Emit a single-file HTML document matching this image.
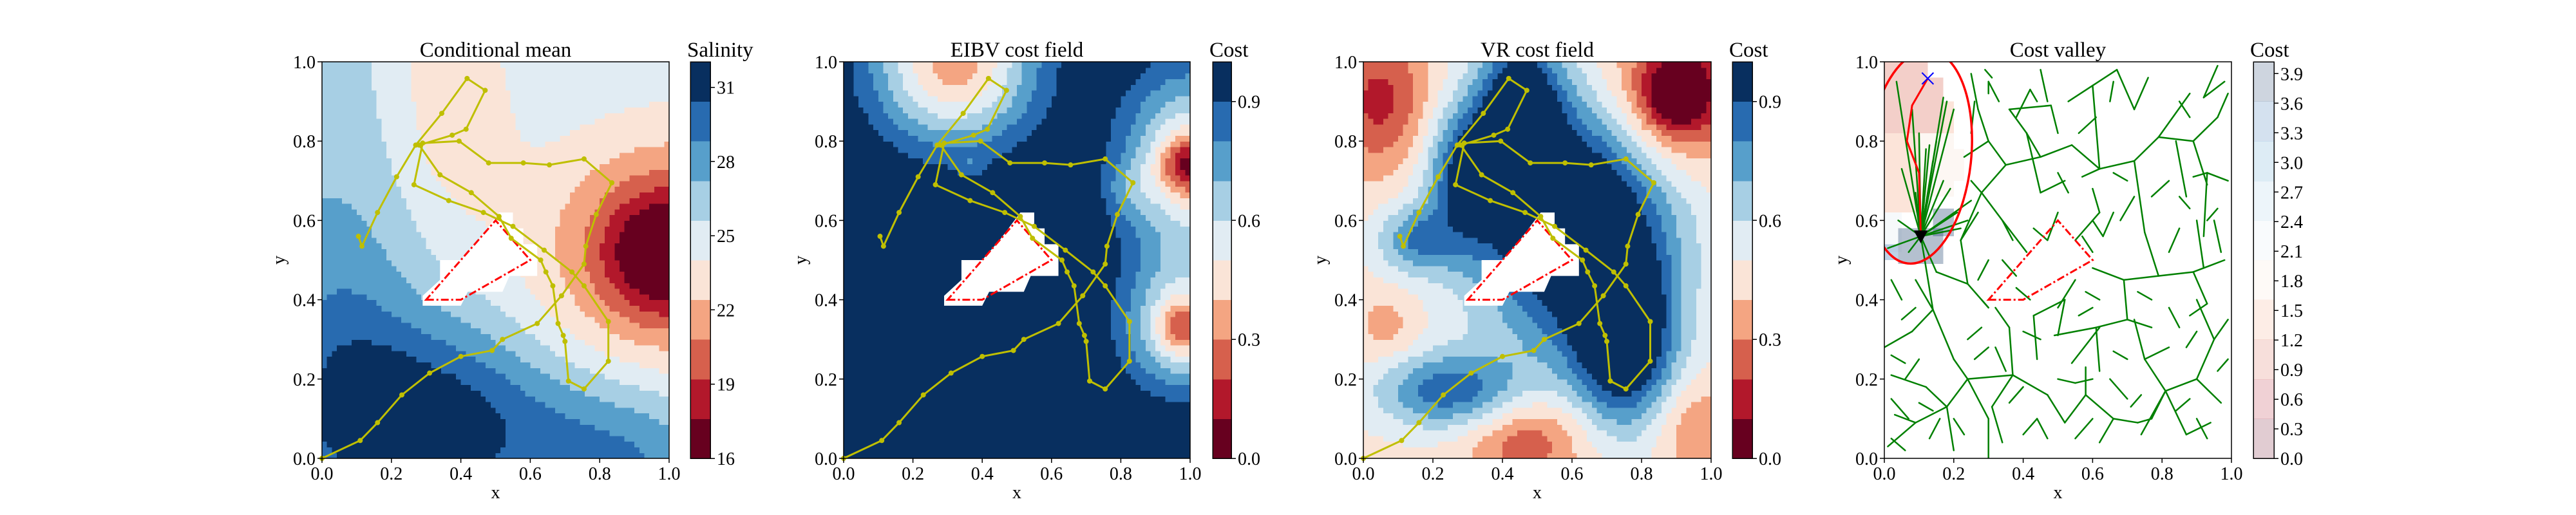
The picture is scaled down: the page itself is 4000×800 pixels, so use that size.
<!DOCTYPE html>
<html><head><meta charset="utf-8">
<style>
html,body{margin:0;padding:0;background:#fff;}
body, svg, svg text{font-family:"Liberation Serif","Times New Roman",Times,"DejaVu Serif",serif;}
svg{display:block;}
</style></head>
<body>
<svg id="fig" width="4000" height="800" viewBox="0 0 4000 800" xmlns="http://www.w3.org/2000/svg"></svg>
<script>
// ---- data ----
const xTicks = [0, 0.2, 0.4, 0.6, 0.8, 1.0];
const yTicks = [0, 0.2, 0.4, 0.6, 0.8, 1.0];
const salTicks = [16, 19, 22, 25, 28, 31];
const costTicks = [0.0, 0.3, 0.6, 0.9];
const valleyTicks = [0.0, 0.3, 0.6, 0.9, 1.2, 1.5, 1.8, 2.1, 2.4, 2.7, 3.0, 3.3, 3.6, 3.9];
const titles = ["Conditional mean", "EIBV cost field", "VR cost field", "Cost valley"];
const cbarTitles = ["Salinity", "Cost", "Cost", "Cost"];
// field blobs: [x, y, amplitude(band units), sx, sy]
const salBase = 6.3;
const salBlobs = [[1.0,0.52,-4,0.12,0.1],[1.0,0.52,-4,0.3,0.25],[0.3,0.1,3.5,0.25,0.17],[0.05,0.3,1.5,0.15,0.3],[0.38,0.95,-2,0.13,0.25],[0.85,0.0,2.2,0.22,0.15]];
const eibvBase = 10.5;
const eibvBlobs = [[0.32,1.0,-7,0.17,0.15],[1.0,0.74,-4,0.06,0.05],[1.0,0.74,-6,0.14,0.17],[0.98,0.33,-3,0.05,0.05],[0.98,0.33,-5,0.13,0.12],[0.82,0.68,-1.2,0.05,0.05],[0.37,0.74,-1,0.03,0.02]];
const vrBase = 4.6;
const vrBlobs = [[0.6,0.6,7,0.2,0.22],[0.75,0.3,6,0.1,0.15],[0.45,0.9,5,0.08,0.12],[0.3,0.72,4,0.08,0.12],[0.25,0.17,4,0.15,0.07],[0.15,0.55,3,0.08,0.06],[0.9,0.92,-3,0.06,0.06],[0.9,0.92,-4,0.14,0.13],[0.05,0.9,-3,0.1,0.12],[0.47,0.05,-2.5,0.12,0.08],[0.95,0.08,-1.6,0.08,0.08],[0.07,0.33,-1.2,0.06,0.06]];
// yellow path
const pathX = [0.105,0.115,0.16,0.215,0.27,0.345,0.418,0.47,0.415,0.375,0.28,0.34,0.43,0.51,0.545,0.63,0.645,0.665,0.68,0.695,0.70,0.71,0.755,0.825,0.825,0.755,0.72,0.64,0.55,0.465,0.365,0.265,0.29,0.395,0.48,0.58,0.655,0.755,0.835,0.79,0.76,0.755,0.69,0.62,0.52,0.49,0.40,0.31,0.23,0.16,0.11,0.0];
const pathY = [0.56,0.535,0.62,0.71,0.79,0.87,0.958,0.928,0.83,0.815,0.79,0.715,0.67,0.61,0.555,0.5,0.47,0.435,0.34,0.31,0.295,0.195,0.175,0.245,0.345,0.435,0.47,0.525,0.585,0.62,0.65,0.69,0.795,0.80,0.745,0.745,0.74,0.755,0.695,0.615,0.535,0.49,0.41,0.34,0.30,0.272,0.257,0.215,0.16,0.09,0.045,0.0];
const obsX = [0.3,0.4,0.6,0.5];
const obsY = [0.4,0.4,0.5,0.6];
const maskX = [0.29,0.40,0.42,0.52,0.54,0.62,0.62,0.58,0.58,0.55,0.55,0.51,0.45,0.40,0.34,0.34,0.29];
const maskY = [0.385,0.385,0.42,0.42,0.46,0.46,0.54,0.54,0.58,0.58,0.62,0.62,0.55,0.50,0.50,0.45,0.41];
// cost valley
const treeEdges = [[0.105,0.56,0.14,0.375],[0.14,0.375,0.2,0.25],[0.2,0.25,0.24,0.2],[0.24,0.2,0.3,0.1],[0.3,0.1,0.3,0.0],[0.24,0.2,0.37,0.21],[0.37,0.21,0.47,0.16],[0.37,0.21,0.36,0.33],[0.36,0.33,0.32,0.38],[0.24,0.2,0.18,0.13],[0.18,0.13,0.12,0.18],[0.12,0.18,0.02,0.21],[0.18,0.13,0.09,0.09],[0.09,0.09,0.01,0.03],[0.09,0.09,0.03,0.11],[0.18,0.13,0.2,0.02],[0.14,0.375,0.09,0.45],[0.14,0.375,0.08,0.32],[0.08,0.32,0.0,0.28],[0.105,0.56,0.15,0.47],[0.15,0.47,0.24,0.44],[0.24,0.44,0.3,0.38],[0.24,0.44,0.22,0.55],[0.22,0.55,0.27,0.62],[0.22,0.55,0.28,0.67],[0.28,0.67,0.35,0.74],[0.35,0.74,0.45,0.76],[0.45,0.76,0.54,0.79],[0.54,0.79,0.62,0.73],[0.62,0.73,0.72,0.75],[0.72,0.75,0.79,0.81],[0.79,0.81,0.89,0.8],[0.89,0.8,0.96,0.86],[0.96,0.86,0.99,0.92],[0.79,0.81,0.88,0.92],[0.72,0.75,0.75,0.57],[0.75,0.57,0.79,0.46],[0.79,0.46,0.89,0.47],[0.89,0.47,0.98,0.5],[0.79,0.46,0.69,0.45],[0.69,0.45,0.6,0.48],[0.69,0.45,0.7,0.35],[0.7,0.35,0.61,0.33],[0.61,0.33,0.49,0.31],[0.7,0.35,0.77,0.33],[0.61,0.33,0.62,0.22],[0.62,0.33,0.54,0.24],[0.89,0.47,0.93,0.39],[0.93,0.39,0.88,0.36],[0.89,0.71,0.93,0.72],[0.93,0.72,0.99,0.7],[0.93,0.72,0.92,0.56],[0.89,0.8,0.93,0.69],[0.62,0.73,0.57,0.71],[0.62,0.73,0.6,0.94],[0.6,0.94,0.53,0.9],[0.6,0.94,0.67,0.98],[0.67,0.98,0.72,0.88],[0.72,0.88,0.76,0.96],[0.45,0.76,0.41,0.82],[0.41,0.82,0.36,0.88],[0.36,0.88,0.48,0.89],[0.48,0.89,0.5,0.82],[0.41,0.82,0.45,0.67],[0.45,0.67,0.52,0.7],[0.35,0.74,0.3,0.8],[0.3,0.8,0.23,0.76],[0.28,0.67,0.34,0.6],[0.34,0.6,0.41,0.52],[0.34,0.6,0.37,0.55],[0.47,0.16,0.52,0.09],[0.37,0.21,0.31,0.13],[0.31,0.13,0.34,0.04],[0.52,0.09,0.58,0.16],[0.58,0.16,0.66,0.1],[0.66,0.1,0.73,0.09],[0.73,0.09,0.77,0.1],[0.77,0.1,0.81,0.17],[0.81,0.17,0.9,0.2],[0.9,0.2,0.95,0.3],[0.95,0.3,0.9,0.4],[0.81,0.17,0.75,0.25],[0.75,0.25,0.72,0.35],[0.75,0.25,0.82,0.28],[0.81,0.17,0.87,0.06],[0.87,0.06,0.94,0.09],[0.81,0.17,0.74,0.06],[0.66,0.1,0.62,0.04],[0.58,0.16,0.58,0.23],[0.5,0.31,0.52,0.4],[0.52,0.4,0.43,0.36],[0.43,0.36,0.44,0.25],[0.95,0.3,0.99,0.35],[0.9,0.2,0.97,0.14],[0.3,0.38,0.28,0.4],[0.28,0.67,0.25,0.7],[0.55,0.55,0.62,0.62],[0.62,0.62,0.6,0.68],[0.9,0.6,0.92,0.48],[0.84,0.8,0.87,0.66],[0.98,0.95,0.92,0.91],[0.92,0.91,0.96,0.99],[0.25,0.97,0.27,0.88],[0.27,0.88,0.3,0.8],[0.45,0.98,0.47,0.9],[0.3,0.95,0.33,0.9],[0.55,0.45,0.5,0.38],[0.45,0.3,0.4,0.32],[0.1,0.25,0.06,0.2],[0.02,0.15,0.07,0.1],[0.85,0.58,0.82,0.52],[0.65,0.2,0.7,0.15],[0.55,0.05,0.6,0.1],[0.95,0.6,0.97,0.52],[0.68,0.6,0.72,0.66],[0.02,0.45,0.05,0.4],
[0.3,0.92,0.3,0.95],[0.31,0.96,0.29,0.98],[0.38,0.86,0.42,0.93],[0.42,0.93,0.44,0.9],[0.5,0.62,0.47,0.55],[0.47,0.55,0.43,0.58],[0.6,0.52,0.57,0.56],[0.66,0.62,0.63,0.56],[0.63,0.56,0.6,0.6],[0.77,0.66,0.82,0.7],[0.7,0.7,0.66,0.72],[0.85,0.9,0.88,0.86],[0.5,0.72,0.53,0.67],[0.56,0.82,0.61,0.86],[0.65,0.9,0.66,0.95],[0.26,0.9,0.25,0.82],[0.24,0.3,0.28,0.33],[0.26,0.25,0.3,0.28],[0.32,0.28,0.35,0.22],[0.05,0.35,0.09,0.38],[0.02,0.05,0.06,0.02],[0.13,0.05,0.16,0.1],[0.4,0.06,0.44,0.1],[0.44,0.1,0.47,0.05],[0.4,0.18,0.36,0.14],[0.5,0.2,0.55,0.19],[0.55,0.19,0.6,0.2],[0.66,0.27,0.7,0.25],[0.71,0.13,0.74,0.16],[0.84,0.12,0.88,0.15],[0.9,0.1,0.93,0.05],[0.96,0.22,0.99,0.25],[0.93,0.6,0.96,0.63],[0.85,0.66,0.88,0.63],[0.82,0.38,0.85,0.33],[0.77,0.4,0.73,0.42],[0.87,0.28,0.9,0.32],[0.62,0.4,0.58,0.42],[0.56,0.36,0.6,0.38],[0.38,0.43,0.42,0.4],[0.27,0.45,0.3,0.5],[0.2,0.1,0.23,0.06],[0.1,0.14,0.14,0.12],[0.06,0.24,0.02,0.26],[0.34,0.5,0.38,0.46]];
const fanEndX = [0.035,0.08,0.1,0.15,0.18,0.2,0.17,0.14,0.12,0.05,0.25,0.24,0.22,0.04,0.07,0.01,0.17,0.13,0.09,0.21,0.19];
const fanEndY = [0.95,0.88,0.82,0.8,0.9,0.88,0.7,0.75,0.78,0.73,0.65,0.6,0.58,0.6,0.52,0.53,0.91,0.79,0.67,0.62,0.68];
const bestX = [0.105,0.1,0.065,0.08,0.125];
const bestY = [0.56,0.72,0.8,0.89,0.958];
// valley heat patches: [x0,x1,y0,y1,band]
const valleyPatches = [[0,0.125,0.82,1.0,2],[0.125,0.17,0.82,0.96,2],[0.17,0.2,0.82,0.9,3],[0,0.1,0.62,0.82,3],[0.1,0.2,0.66,0.82,4],[0.2,0.23,0.7,0.78,4],[0,0.05,0.52,0.62,5],[0.04,0.17,0.49,0.58,9],[0.14,0.2,0.56,0.63,9],[0.0,0.04,0.5,0.54,8]];

// ---- helpers ----
const NS = "http://www.w3.org/2000/svg";
const svg = document.getElementById("fig");
const SERIF = "font-family:'Liberation Serif','Times New Roman',Times,'DejaVu Serif',serif";
function mk(tag, attrs, parent){const e=document.createElementNS(NS,tag);for(const k in attrs)e.setAttribute(k,attrs[k]);if(tag==="text")e.setAttribute("style",SERIF);(parent||svg).appendChild(e);return e;}
const COLORS = ["#67001f","#b2182b","#d6604d","#f4a582","#fae4d7","#e1ecf3","#a7cfe4","#579fcb","#286bb0","#082f5f"];
const AX = [[500,1039],[1310,1848],[2117,2657],[2926,3465]];
const CB = [[1072,1103],[1883,1912],[2690,2721],[3499,3531]];
const TOP = 96, BOT = 712;
function sx(p,v){return AX[p][0]+v*(AX[p][1]-AX[p][0]);}
function sy(v){return BOT-v*(BOT-TOP);}

const defs = mk("defs",{});
for(let p=0;p<4;p++){const cp=mk("clipPath",{id:"clip"+p},defs);mk("rect",{x:AX[p][0],y:TOP,width:AX[p][1]-AX[p][0],height:BOT-TOP},cp);}

function drawField(p, base, blobs, name){
  const g = mk("g",{"shape-rendering":"crispEdges"});
  
  
  const N=70, w=(AX[p][1]-AX[p][0])/N, h=(BOT-TOP)/N;
  for(let i=0;i<N;i++)for(let j=0;j<N;j++){
    const x=(i+0.5)/N, y=(j+0.5)/N;
    let v=base;
    for(const b of blobs){v+=b[2]*Math.exp(-((x-b[0])**2/(2*b[3]*b[3])+(y-b[1])**2/(2*b[4]*b[4])));}
    const k=Math.max(0,Math.min(9,Math.floor(v)));
    mk("rect",{x:sx(p,i/N),y:sy((j+1)/N),width:w+0.6,height:h+0.6,fill:COLORS[k]},g);
  }
}
function drawMask(p){
  const e=mk("polygon",{points:maskX.map((x,i)=>sx(p,x)+","+sy(maskY[i])).join(" "),fill:"#fff"});
  
  
}
function drawObstacle(p){
  const e=mk("polygon",{points:obsX.map((x,i)=>sx(p,x)+","+sy(obsY[i])).join(" "),fill:"none",stroke:"#ff0000","stroke-width":3,"stroke-dasharray":"12,4,3,4"});
  
  
}
function drawPath(p){
  const g=mk("g",{});
  
  
  mk("polyline",{points:pathX.map((x,i)=>sx(p,x)+","+sy(pathY[i])).join(" "),fill:"none",stroke:"#bfbf00","stroke-width":3},g);
  pathX.forEach((x,i)=>{const c=mk("circle",{cx:sx(p,x),cy:sy(pathY[i]),r:4,fill:"#bfbf00"},g);
    
    });
}
function drawAxes(p){
  const g=mk("g",{});
  
  
  mk("rect",{x:AX[p][0],y:TOP,width:AX[p][1]-AX[p][0],height:BOT-TOP,fill:"none",stroke:"#000","stroke-width":1.5},g);
  xTicks.forEach(t=>{const X=sx(p,t);mk("line",{x1:X,x2:X,y1:BOT,y2:BOT+7,stroke:"#000","stroke-width":1.5},g);
    const tx=mk("text",{x:X,y:BOT+33,"font-size":28,"text-anchor":"middle"},g);tx.textContent=t.toFixed(1);
    });
  yTicks.forEach(t=>{const Y=sy(t);mk("line",{x1:AX[p][0]-7,x2:AX[p][0],y1:Y,y2:Y,stroke:"#000","stroke-width":1.5},g);
    const tx=mk("text",{x:AX[p][0]-10,y:Y+10,"font-size":28,"text-anchor":"end"},g);tx.textContent=t.toFixed(1);
    });
  const cx=(AX[p][0]+AX[p][1])/2;
  const xl=mk("text",{x:cx,y:BOT+62,"font-size":28,"text-anchor":"middle"},g);xl.textContent="x";
  
  const yl=mk("text",{x:0,y:0,"font-size":28,"text-anchor":"middle",transform:`translate(${AX[p][0]-58},${(TOP+BOT)/2}) rotate(-90)`},g);yl.textContent="y";
  
  const ti=mk("text",{x:cx,y:TOP-8,"font-size":33,"text-anchor":"middle"},g);ti.textContent=titles[p];
  
}
function drawCbar(p, vmin, vmax, ticks, alpha, fmt){
  const g=mk("g",{"shape-rendering":"crispEdges"});
  
  
  const x0=CB[p][0], w=CB[p][1]-CB[p][0], h=(BOT-TOP)/10;
  for(let k=0;k<10;k++) mk("rect",{x:x0,y:BOT-(k+1)*h,width:w,height:h+0.5,fill:COLORS[k],"fill-opacity":alpha},g);
  mk("rect",{x:x0,y:TOP,width:w,height:BOT-TOP,fill:"none",stroke:"#000","stroke-width":1.5},g);
  ticks.forEach(t=>{const Y=BOT-(t-vmin)/(vmax-vmin)*(BOT-TOP);
    mk("line",{x1:x0+w,x2:x0+w+7,y1:Y,y2:Y,stroke:"#000","stroke-width":1.5},g);
    const tx=mk("text",{x:x0+w+10,y:Y+10,"font-size":28},g);tx.textContent=fmt(t);
    });
  const ct=mk("text",{x:x0-5,y:TOP-8,"font-size":33},g);ct.textContent=cbarTitles[p];
  
}

// panel 1-3
drawField(0, salBase, salBlobs, "salinity-field");
drawField(1, eibvBase, eibvBlobs, "eibv-field");
drawField(2, vrBase, vrBlobs, "vr-field");
for(let p=0;p<3;p++){drawMask(p);drawObstacle(p);drawPath(p);}
// panel 4
(function(){
  const p=3;
  const hg=mk("g",{"shape-rendering":"crispEdges"});
  
  
  valleyPatches.forEach(q=>{mk("rect",{x:sx(p,q[0]),y:sy(q[3]),width:sx(p,q[1])-sx(p,q[0]),height:sy(q[2])-sy(q[3]),fill:COLORS[q[4]],"fill-opacity":0.3},hg);});
  const tg=mk("g",{stroke:"#008000","stroke-width":2.5,"stroke-linecap":"round","clip-path":"url(#clip3)"});
  
  
  treeEdges.forEach(e=>mk("line",{x1:sx(p,e[0]),y1:sy(e[1]),x2:sx(p,e[2]),y2:sy(e[3])},tg));
  fanEndX.forEach((x,i)=>mk("line",{x1:sx(p,0.105),y1:sy(0.56),x2:sx(p,x),y2:sy(fanEndY[i])},tg));
  const eg=mk("g",{"clip-path":"url(#clip3)"});
  const el=mk("ellipse",{cx:sx(p,0.1),cy:sy(0.76),rx:(sx(p,0.25)-sx(p,-0.05))/2,ry:(sy(0.49)-sy(1.03))/2,fill:"none",stroke:"#ff0000","stroke-width":3.5,transform:`rotate(6 ${sx(p,0.1)} ${sy(0.76)})`},eg);
  
  
  const bp=mk("polyline",{points:bestX.map((x,i)=>sx(p,x)+","+sy(bestY[i])).join(" "),fill:"none",stroke:"#ff0000","stroke-width":3});
  
  
  const gx=sx(p,0.125), gy=sy(0.958);
  const tgt=mk("path",{d:`M${gx-9},${gy-9}L${gx+9},${gy+9}M${gx-9},${gy+9}L${gx+9},${gy-9}`,stroke:"#0000ff","stroke-width":2});
  
  
  const nx=sx(p,0.105), ny=sy(0.56);
  const st=mk("polygon",{points:`${nx-11},${ny-9} ${nx+11},${ny-9} ${nx},${ny+11}`,fill:"#000"});
  
  
  drawObstacle(p);
})();
for(let p=0;p<4;p++) drawAxes(p);
drawCbar(0,16,32.03,salTicks,1,t=>String(t));
drawCbar(1,0,1,costTicks,1,t=>t.toFixed(1));
drawCbar(2,0,1,costTicks,1,t=>t.toFixed(1));
drawCbar(3,0,4.02,valleyTicks,0.2,t=>t.toFixed(1));
</script>
</body></html>
